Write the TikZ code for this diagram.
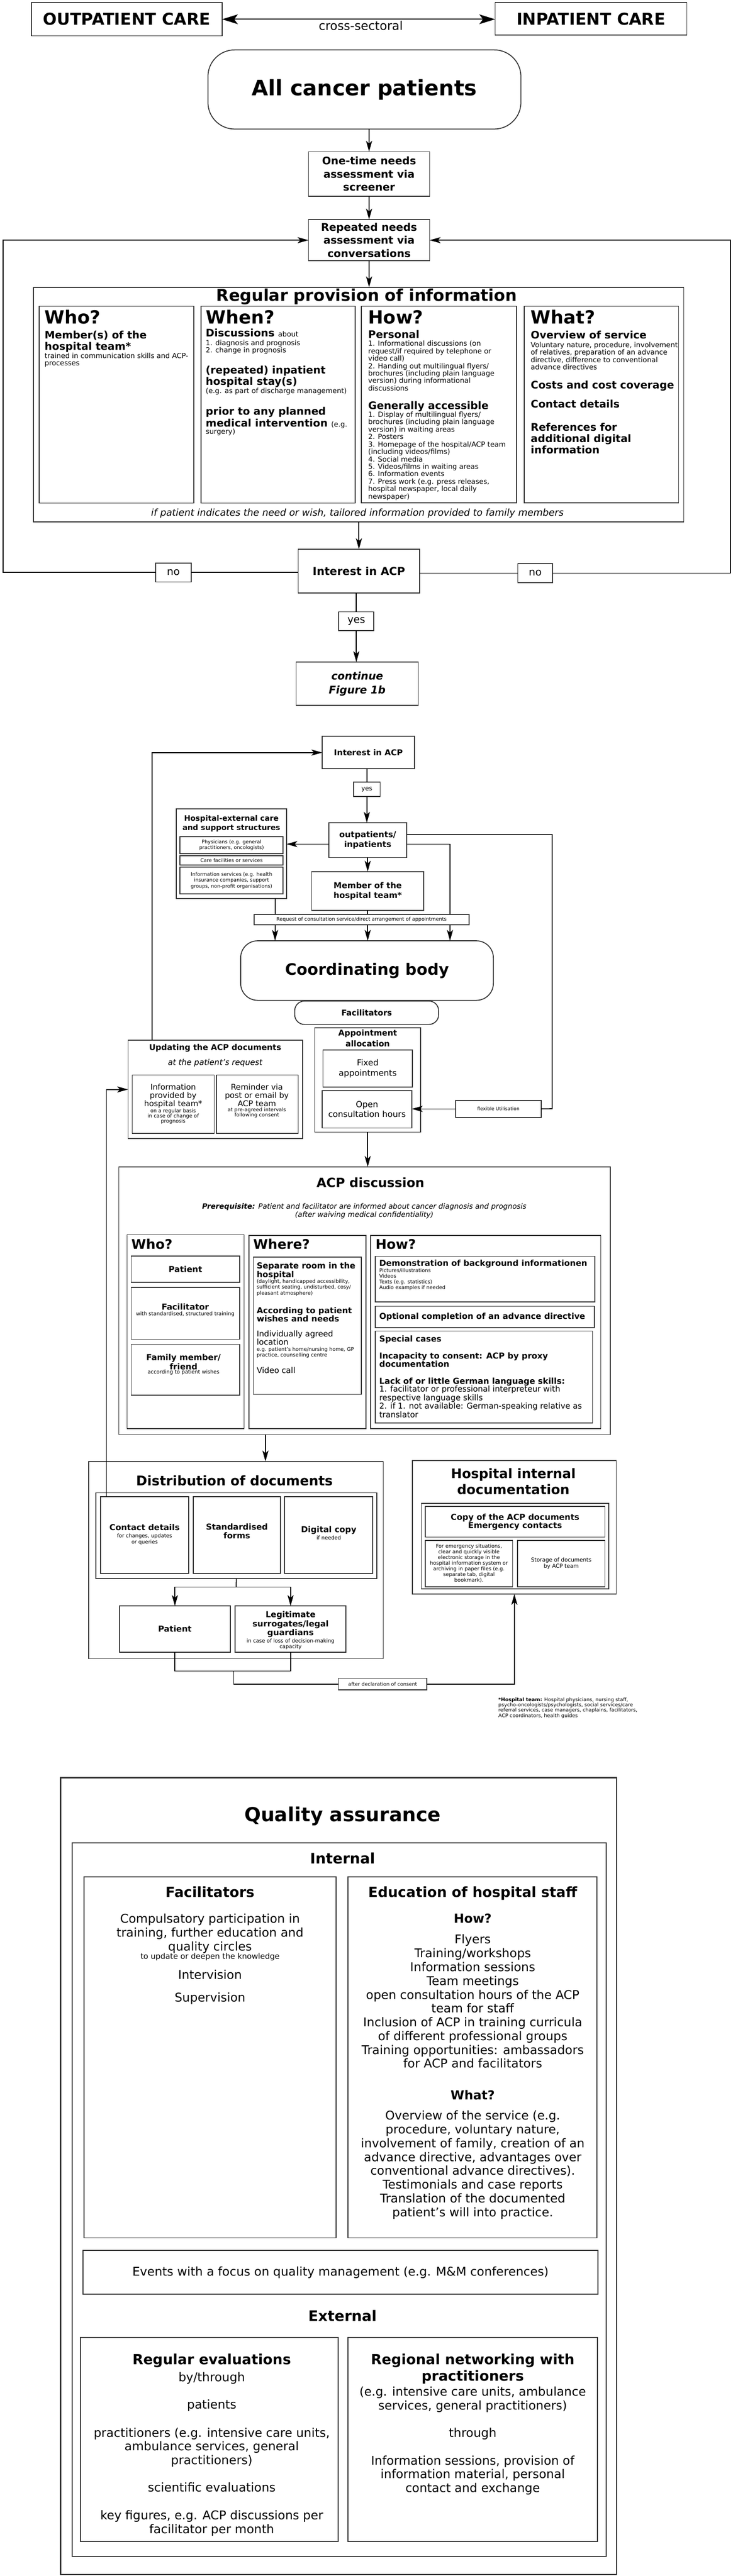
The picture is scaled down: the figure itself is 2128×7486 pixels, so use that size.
\documentclass[tikz,border=0pt]{standalone}
\usepackage{fontspec}
\setmainfont{DejaVu Sans}
\usetikzlibrary{arrows.meta,fit,calc}
\newcounter{tn}
\newcommand\fsz[2]{\fontsize{#1}{#2}\selectfont}
\newcommand\TX[7]{\stepcounter{tn}\node[inner sep=0pt,#1,font={\fontsize{#4}{#5}\selectfont#6}] (t\arabic{tn}) at ({#2},{#3-2.812*#4}) {\rule{0pt}{0.8em}#7};}
\newcommand\TL{\TX{anchor=north west,align=left}}
\newcommand\TC{\TX{anchor=north,align=center}}
\newcommand\CT[4][]{\stepcounter{tn}\node[inner sep=0pt,align=center,font={#3},#1] (t\arabic{tn}) at (#2) {#4};}
\newcommand\BX[6][]{\node[bx,#1,fit={(#3,#4) (#5,#6)}] (#2) {};}
\tikzset{
  bx/.style={draw=black!80,line width=0.75pt,inner sep=0pt,outer sep=0pt},
  ln/.style={line width=0.75pt,draw=black},
  arr/.style={ln,-{Stealth[length=9pt,width=5pt,inset=2.2pt]}},
  arrtwo/.style={line width=0.9pt,draw=black,{Stealth[length=13pt,width=8pt,inset=3pt]}-{Stealth[length=13pt,width=8pt,inset=3pt]}},
}
\begin{document}
\begin{tikzpicture}[x=0.01cm,y=-0.01cm]
\fill[white] (0,0) rectangle (2128,7486);
\useasboundingbox (0,0) rectangle (2128,7486);

% ---------------- header
\BX{outp}{91}{8}{645}{104}
\BX{inp}{1438}{8}{1995}{102}
\CT{outp.center}{\fsz{13.5}{15}\bfseries}{OUTPATIENT CARE}
\CT{inp.center}{\fsz{13.5}{15}\bfseries}{INPATIENT CARE}
\draw[arrtwo] (outp.east) -- (outp.east -| inp.west);
\CT{1048,74}{\fsz{10}{12}}{cross-sectoral}

% ---------------- figure 1a
\BX[rounded corners=22pt]{allc}{604}{145}{1513}{375}
\CT{allc.center}{\fsz{17.6}{20}\bfseries}{All cancer patients}
\BX{onet}{896}{441}{1248}{570}
\CT{onet.center}{\fsz{8.7}{10.8}\bfseries}{One-time needs\\assessment via\\screener}
\BX{rept}{896}{638}{1248}{758}
\CT{rept.center}{\fsz{8.7}{10.8}\bfseries}{Repeated needs\\assessment via\\conversations}
\draw[arr] (allc.south -| onet.north) -- (onet.north);
\draw[arr] (onet) -- (rept);
\BX{regp}{97}{835}{1986}{1517}
\draw[arr] (rept) -- (rept.south |- regp.north);
\TC{1065}{875}{13.5}{15}{\bfseries}{Regular provision of information}

\BX{who}{114}{890}{563}{1462}
\BX{when}{584}{890}{1031}{1462}
\BX{how}{1050}{890}{1500}{1461}
\BX{what}{1523}{890}{1971}{1461}

\TL{129}{940}{15}{17}{\bfseries}{Who?}
\TL{129}{983}{8.6}{9.4}{\bfseries}{Member(s) of the\\hospital team*}
\TL{129}{1040}{5.8}{6.15}{}{trained in communication skills and ACP-\\processes}

\TL{597}{940}{15}{17}{\bfseries}{When?}
\TL{597}{978}{8.6}{9.4}{\bfseries}{Discussions {\fsz{5.8}{6.15}\mdseries about}}
\TL{597}{1003}{5.8}{6.15}{}{1. diagnosis and prognosis\\2. change in prognosis}
\TL{597}{1085}{8.6}{9.4}{\bfseries}{(repeated) inpatient\\hospital stay(s)}
\TL{597}{1143}{5.8}{6.15}{}{(e.g. as part of discharge management)}
\TL{597}{1206}{8.6}{9.4}{\bfseries}{prior to any planned\\medical intervention {\fsz{5.8}{6.15}\mdseries (e.g.}}
\TL{597}{1261}{5.8}{6.15}{}{surgery)}

\TL{1069}{940}{15}{17}{\bfseries}{How?}
\TL{1069}{982}{8.6}{9.4}{\bfseries}{Personal}
\TL{1069}{1005}{5.8}{6.15}{}{1. Informational discussions (on\\request/if required by telephone or\\video call)\\2. Handing out multilingual flyers/\\brochures (including plain language\\version) during informational\\discussions}
\TL{1069}{1189}{8.6}{9.4}{\bfseries}{Generally accessible}
\TL{1069}{1211}{5.8}{6.15}{}{1. Display of multilingual flyers/\\brochures (including plain language\\version) in waiting areas\\2. Posters\\3. Homepage of the hospital/ACP team\\(including videos/films)\\4. Social media\\5. Videos/films in waiting areas\\6. Information events\\7. Press work (e.g. press releases,\\hospital newspaper, local daily\\newspaper)}

\TL{1541}{940}{15}{17}{\bfseries}{What?}
\TL{1541}{984}{8.6}{9.4}{\bfseries}{Overview of service}
\TL{1541}{1009}{5.8}{6.15}{}{Voluntary nature, procedure, involvement\\of relatives, preparation of an advance\\directive, difference to conventional\\advance directives}
\TL{1541}{1129}{8.6}{9.4}{\bfseries}{Costs and cost coverage}
\TL{1541}{1185}{8.6}{9.4}{\bfseries}{Contact details}
\TL{1541}{1252}{8.6}{9.4}{\bfseries}{References for\\additional digital\\information}

\TC{1038}{1498}{7.9}{9}{\itshape}{if patient indicates the need or wish, tailored information provided to family members}

\BX{intr}{866}{1596}{1219}{1723}
\CT{intr.center}{\fsz{9}{11}\bfseries}{Interest in ACP}
\draw[arr] (regp.south -| intr.north) -- (intr.north);
\BX{noL}{452}{1636}{555}{1691}
\CT{noL.center}{\fsz{8.5}{10}}{no}
\BX{noR}{1504}{1638}{1605}{1693}
\CT{noR.center}{\fsz{8.5}{10}}{no}
\coordinate (lc) at (9,1664);
\coordinate (rc) at (2121,1664);
\draw[ln] (noL.east -| intr.west) -- (noL.east);
\draw[arr] (noL.west) -- (noL.west -| lc) |- (rept.west);
\draw[ln] (noR.west -| intr.east) -- (noR.west);
\draw[arr] (noR.east) -- (noR.east -| rc) |- (rept.east);
\BX{yesA}{984}{1778}{1086}{1833}
\CT{yesA.center}{\fsz{8.5}{10}}{yes}
\draw[ln] (yesA.north |- intr.south) -- (yesA.north);
\BX{cont}{860}{1924}{1215}{2050}
\CT{cont.center}{\fsz{8.7}{11.4}\bfseries\itshape}{continue\\Figure 1b}
\draw[arr] (yesA.south) -- (yesA.south |- cont.north);

% ---------------- figure 1b
\BX{intb}{936}{2140}{1204}{2234}
\CT{intb.center}{\fsz{6.7}{8}\bfseries}{Interest in ACP}
\BX{yesB}{1027}{2273}{1104}{2315}
\CT{yesB.center}{\fsz{5.2}{6}}{yes}
\BX{outq}{955}{2391}{1181}{2492}
\CT{outq.center}{\fsz{6.8}{8.2}\bfseries}{outpatients/\\inpatients}
\draw[ln] (yesB.north |- intb.south) -- (yesB.north);
\draw[arr] (yesB.south) -- (yesB.south |- outq.north);

\BX{hext}{512}{2351}{832}{2611}
\TC{672}{2385}{6.2}{7.7}{\bfseries}{Hospital-external care\\and support structures}
\BX{phys}{523}{2431}{822}{2481}
\CT{phys.center}{\fsz{4.1}{4.8}}{Physicians (e.g. general\\practitioners, oncologists)}
\BX{carf}{523}{2487}{822}{2514}
\CT{carf.center}{\fsz{4.1}{4.8}}{Care facilities or services}
\BX{infs}{523}{2520}{822}{2598}
\CT{infs.center}{\fsz{4.1}{4.8}}{Information services (e.g. health\\insurance companies, support\\groups, non-profit organisations)}
\coordinate (o3) at (955,2453);
\draw[arr] (o3) -- (o3 -| hext.east);

\BX{memb}{905}{2533}{1231}{2646}
\CT{memb.center}{\fsz{6.8}{8.2}\bfseries}{Member of the\\hospital team*}
\draw[arr] (outq.south) -- (outq.south |- memb.north);

\BX[rounded corners=14pt]{coord}{699}{2734}{1433}{2907}
\CT{coord.center}{\fsz{13}{15}\bfseries}{Coordinating body}
\coordinate (h1) at (799,2611);
\draw[arr] (h1) -- (h1 |- coord.north);
\draw[arr] (memb.south) -- (memb.south |- coord.north);
\coordinate (o2) at (1181,2453);
\coordinate (r2) at (1307,2734);
\draw[arr] (o2) -| (r2);
\BX[fill=white]{reqb}{738}{2658}{1362}{2687}
\CT{reqb.center}{\fsz{4.1}{5}}{Request of consultation service/direct arrangement of appointments}

\BX[rounded corners=8pt]{facb}{856}{2909}{1274}{2977}
\CT{facb.center}{\fsz{6.6}{8}\bfseries}{Facilitators}

\BX{appt}{914}{2987}{1222}{3290}
\TC{1068}{3010}{6.6}{8.8}{\bfseries}{Appointment\\allocation}
\BX{fixd}{938}{3051}{1198}{3159}
\CT{fixd.center}{\fsz{6.9}{8.2}}{Fixed\\appointments}
\BX{open}{936}{3170}{1196}{3278}
\CT{open.center}{\fsz{6.9}{8.2}}{Open\\consultation hours}
\BX{flex}{1323}{3198}{1572}{3247}
\CT{flex.center}{\fsz{3.9}{5}}{flexible Utilisation}
\coordinate (o1) at (1181,2425);
\coordinate (r1) at (1604,3222);
\draw[ln] (o1) -| (r1) -- (flex.east);
\draw[arr] (flex.west) -- (flex.west -| open.east);

\BX{upd}{372}{3023}{879}{3309}
\TC{625}{3051}{6.6}{8}{\bfseries}{Updating the ACP documents}
\TC{625}{3094}{6.6}{8}{\itshape}{at the patient's request}
\BX{infb}{384}{3124}{622}{3294}
\BX{remb}{629}{3124}{866}{3294}
\TC{503}{3167}{6.5}{6.8}{}{Information\\provided by\\hospital team*}
\TC{503}{3232}{4.2}{4.4}{}{on a regular basis\\in case of change of\\prognosis}
\TC{746}{3166}{6.5}{6.8}{}{Reminder via\\post or email by\\ACP team}
\TC{746}{3229}{4.2}{4.4}{}{at pre-agreed intervals\\following consent}
\coordinate (u1) at (442,3023);
\draw[arr] (u1) |- (intb.west);

% ---------------- ACP discussion
\BX{acpd}{345}{3391}{1773}{4169}
\draw[arr] (appt.south) -- (appt.south |- acpd.north);
\TC{1076}{3450}{10.5}{12}{\bfseries}{ACP discussion}
\TC{1058}{3512}{6}{7}{\itshape}{\textbf{Prerequisite:} Patient and facilitator are informed about cancer diagnosis and prognosis\\(after waiving medical confidentiality)}

\BX{whob}{369}{3588}{709}{4152}
\TL{381}{3629}{11}{13}{\bfseries}{Who?}
\BX{patb}{381}{3650}{696}{3726}
\CT{patb.center}{\fsz{6.8}{8}\bfseries}{Patient}
\BX{facc}{381}{3742}{696}{3892}
\TC{538}{3806}{6.8}{8}{\bfseries}{Facilitator}
\TC{538}{3822}{4.3}{5}{}{with standardised, structured training}
\BX{famb}{381}{3907}{696}{4054}
\TC{533}{3953}{6.8}{6.5}{\bfseries}{Family member/\\friend}
\TC{533}{3991}{4.3}{5}{}{according to patient wishes}

\BX{whrb}{723}{3590}{1063}{4152}
\TL{735}{3629}{11}{13}{\bfseries}{Where?}
\BX{whin}{736}{3653}{1049}{4052}
\TL{745}{3686}{6.8}{7.1}{\bfseries}{Separate room in the\\hospital}
\TL{745}{3728}{4.2}{4.8}{}{(daylight, handicapped accessibility,\\sufficient seating, undisturbed, cosy/\\pleasant atmosphere)}
\TL{745}{3816}{6.8}{7.1}{\bfseries}{According to patient\\wishes and needs}
\TL{745}{3883}{6.6}{7.0}{}{Individually agreed\\location}
\TL{745}{3925}{4.2}{4.7}{}{e.g. patient's home/nursing home, GP\\practice, counselling centre}
\TL{745}{3990}{6.6}{7}{}{Video call}

\BX{howb}{1077}{3590}{1745}{4152}
\TL{1090}{3629}{11}{13}{\bfseries}{How?}
\BX{demo}{1090}{3651}{1728}{3783}
\TL{1101}{3679}{6.8}{7}{\bfseries}{Demonstration of background informationen}
\TL{1101}{3697}{4.2}{4.7}{}{Pictures/illustrations\\Videos\\Texts (e.g. statistics)\\Audio examples if needed}
\BX{optb}{1090}{3796}{1726}{3858}
\TL{1101}{3833}{6.8}{7}{\bfseries}{Optional completion of an advance directive}
\BX{spec}{1090}{3868}{1721}{4135}
\TL{1101}{3898}{6.8}{7}{\bfseries}{Special cases}
\TL{1101}{3948}{6.8}{7}{\bfseries}{Incapacity to consent: ACP by proxy\\documentation}
\TL{1101}{4021}{6.8}{7}{\bfseries}{Lack of or little German language skills:}
\TL{1101}{4044}{6.6}{7.1}{}{1. facilitator or professional interpreteur with\\respective language skills\\2. if 1. not available: German-speaking relative as\\translator}

% ---------------- distribution
\BX{dist}{258}{4247}{1113}{4820}
\coordinate (a1) at (771,4169);
\draw[arr] (a1) -- (a1 |- dist.north);
\TC{681}{4317}{11}{13}{\bfseries}{Distribution of documents}
\BX{dinr}{278}{4338}{1095}{4587}
\BX{cdet}{292}{4349}{548}{4572}
\TC{420}{4447}{6.8}{8}{\bfseries}{Contact details}
\TC{420}{4468}{4.3}{4.9}{}{for changes, updates\\or queries}
\BX{stdf}{561}{4349}{814}{4572}
\TC{688}{4445}{6.8}{7.4}{\bfseries}{Standardised\\forms}
\BX{digc}{827}{4349}{1082}{4572}
\TC{955}{4453}{6.8}{8}{\bfseries}{Digital copy}
\TC{955}{4473}{4.3}{5}{}{if needed}
\BX{dpat}{347}{4667}{669}{4801}
\CT{dpat.center}{\fsz{6.8}{8}\bfseries}{Patient}
\BX{dleg}{683}{4667}{1005}{4801}
\TC{844}{4700}{6.8}{7.4}{\bfseries}{Legitimate\\surrogates/legal\\guardians}
\TC{844}{4773}{4.3}{4.6}{}{in case of loss of decision-making\\capacity}
\coordinate (d1) at (686,4612);
\draw[ln] (dinr.south) -- (d1);
\draw[arr] (d1) -| (dpat.north);
\draw[arr] (d1) -| (dleg.north);
\draw[ln] (dpat.south) -- ++(0,55) -| (dleg.south);
\coordinate (d3) at (679,4856);
\BX{decl}{983}{4877}{1240}{4911}
\CT{decl.center}{\fsz{4.1}{5}}{after declaration of consent}
\draw[ln] (d3) |- (decl.west);
\coordinate (c1) at (309,4349);
\draw[arr] (c1) |- (upd.west);

% ---------------- hospital internal
\BX{hint}{1198}{4245}{1790}{4632}
\draw[arr] (decl.east) -| (hint.south);
\TC{1491}{4295}{10.9}{13.4}{\bfseries}{Hospital internal\\documentation}
\BX{hinr}{1224}{4369}{1768}{4617}
\BX{copy}{1235}{4378}{1757}{4467}
\CT{copy.center}{\fsz{6.8}{6.9}\bfseries}{Copy of the ACP documents\\Emergency contacts}
\BX{emer}{1235}{4476}{1489}{4611}
\CT{emer.center}{\fsz{4.2}{4.7}}{For emergency situations,\\clear and quickly visible\\electronic storage in the\\hospital information system or\\archiving in paper files (e.g.\\separate tab, digital\\bookmark).}
\BX{stor}{1503}{4476}{1757}{4611}
\CT{stor.center}{\fsz{4.5}{4.9}}{Storage of documents\\by ACP team}

\TL{1447}{4943}{4.1}{4.4}{}{\textbf{*Hospital team:} Hospital physicians, nursing staff,\\psycho-oncologists/psychologists, social services/care\\referral services, case managers, chaplains, facilitators,\\ACP coordinators, health guides}

% ---------------- quality assurance
\BX[line width=0.9pt]{qa}{176}{5166}{1790}{7482}
\TC{995}{5292}{16}{18}{\bfseries}{Quality assurance}
\BX[line width=0.9pt]{qint}{210}{5355}{1761}{7429}
\TC{995}{5415}{12}{14}{\bfseries}{Internal}
\BX{qfac}{244}{5454}{976}{6503}
\BX{qedu}{1011}{5454}{1734}{6503}
\TC{610}{5512}{11.6}{13}{\bfseries}{Facilitators}
\TC{610}{5588}{10}{11.4}{}{Compulsatory participation in\\training, further education and\\quality circles}
\TC{610}{5692}{6.4}{7.5}{}{to update or deepen the knowledge}
\TC{610}{5750}{10}{11.4}{}{Intervision}
\TC{610}{5817}{10}{11.4}{}{Supervision}
\TC{1373}{5512}{11.6}{13}{\bfseries}{Education of hospital staff}
\TC{1373}{5588}{10.3}{12}{\bfseries}{How?}
\TC{1373}{5648}{10}{11.4}{}{Flyers\\Training/workshops\\Information sessions\\Team meetings\\open consultation hours of the ACP\\team for staff\\Inclusion of ACP in training curricula\\of different professional groups\\Training opportunities: ambassadors\\for ACP and facilitators}
\TC{1373}{6101}{10.3}{12}{\bfseries}{What?}
\TC{1373}{6160}{10}{11.4}{}{Overview of the service (e.g.\\procedure, voluntary nature,\\involvement of family, creation of an\\advance directive, advantages over\\conventional advance directives).\\Testimonials and case reports\\Translation of the documented\\patient's will into practice.}
\BX{qevt}{241}{6540}{1737}{6667}
\CT{qevt.center}{\fsz{10}{12}}{Events with a focus on quality management (e.g. M\&M conferences)}
\TC{995}{6745}{12}{14}{\bfseries}{External}
\BX{qreg}{233}{6793}{982}{7386}
\BX{qnet}{1011}{6793}{1735}{7386}
\TC{615}{6871}{11.6}{13}{\bfseries}{Regular evaluations}
\TC{615}{6920}{10}{11.4}{}{by/through}
\TC{615}{7000}{10}{11.4}{}{patients}
\TC{615}{7081}{10}{11.4}{}{practitioners (e.g. intensive care units,\\ambulance services, general\\practitioners)}
\TC{615}{7241}{10}{11.4}{}{scientific evaluations}
\TC{615}{7321}{10}{11.4}{}{key figures, e.g. ACP discussions per\\facilitator per month}
\TC{1373}{6871}{11.6}{13.4}{\bfseries}{Regional networking with\\practitioners}
\TC{1373}{6962}{10}{11.4}{}{(e.g. intensive care units, ambulance\\services, general practitioners)}
\TC{1373}{7081}{10}{11.4}{}{through}
\TC{1373}{7162}{10}{11.4}{}{Information sessions, provision of\\information material, personal\\contact and exchange}
\end{tikzpicture}
\end{document}
